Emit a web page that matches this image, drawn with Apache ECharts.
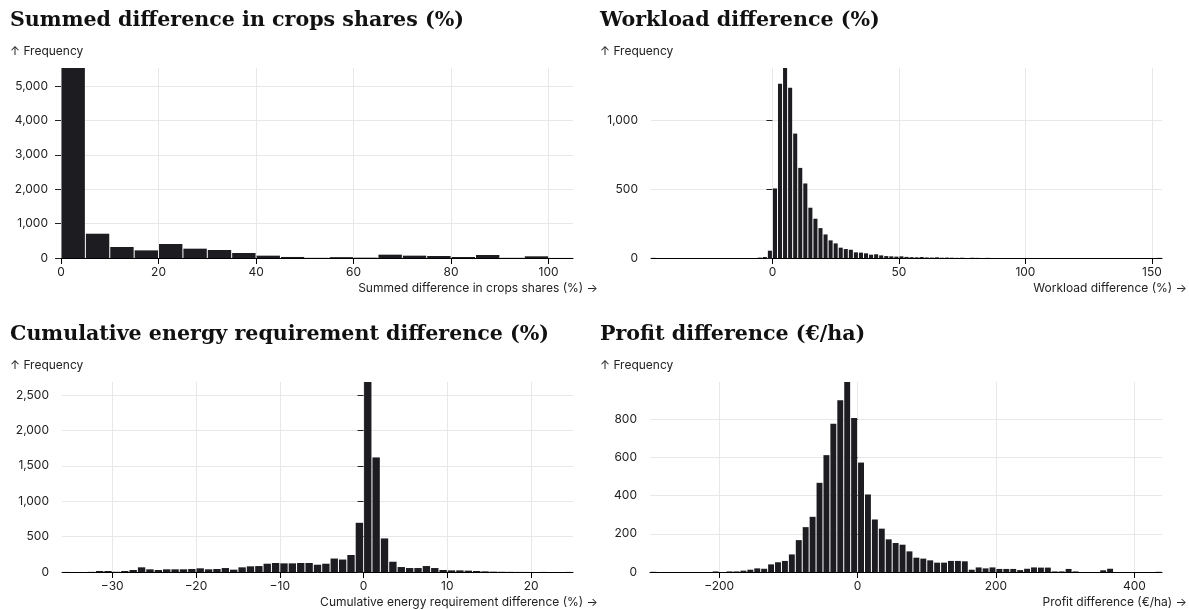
<!DOCTYPE html>
<html><head><meta charset="utf-8">
<script src="https://cdn.jsdelivr.net/npm/echarts@6/dist/echarts.min.js"></script>
<style>html,body{margin:0;padding:0;background:#fff}#c{width:1189px;height:610px}</style>
</head><body><div id="c"></div>
<script>
// ---------- DATA ----------
const cropsTitle = 'Summed difference in crops shares (%)';
const cropsBinStart = 0, cropsBinWidth = 5;
const cropsCounts = [5523, 706, 320, 222, 407, 271, 233, 145, 68, 30, 5, 25, 10, 97, 68, 58, 29, 87, 5, 49, 2];
const cropsXTicks = [0, 20, 40, 60, 80, 100];
const cropsYTicks = [0, 1000, 2000, 3000, 4000, 5000];

const workTitle = 'Workload difference (%)';
const workBinStart = -48, workBinWidth = 2;
const workCounts = [
  1, 0, 0, 0, 0, 0, 0, 0, 0, 0,          // -48 .. -30
  0, 0, 0, 0, 0, 0, 0, 0, 0, 0,          // -28 .. -10
  0, 3, 7, 53,                           // -8 .. -2
  505, 1265, 1379, 1236, 903, 654, 541, 365, 285, 217,   // 0 .. 18
  171, 128, 106, 75, 65, 60, 41, 39, 34, 24,            // 20 .. 38
  27, 19, 14, 12, 10, 12, 8, 6, 5, 7,                   // 40 .. 58
  4, 3, 5, 2, 3, 2, 1, 2, 0, 2,                          // 60 .. 78
  1, 0, 1, 0, 0, 0, 0, 0, 0, 0,                          // 80 .. 98
  0, 0, 0, 0, 0, 0, 0, 0, 0, 0,                          // 100 .. 118
  0, 0, 0, 0, 0, 0, 0, 0, 0, 0,                          // 120 .. 138
  0, 0, 0, 0, 0, 0, 1                                    // 140 .. 152
];
const workXTicks = [0, 50, 100, 150];
const workYTicks = [0, 500, 1000];

const energyTitle = 'Cumulative energy requirement difference (%)';
const energyBinStart = -36, energyBinWidth = 1;
const energyCounts = [
  1, 0, 0, 2, 14, 14, 3, 14, 28, 66,          // -36 .. -27
  38, 28, 38, 38, 38, 42, 52, 38, 42, 56,     // -26 .. -17
  33, 66, 80, 84, 117, 127, 122, 122, 127, 127, // -16 .. -7
  103, 117, 190, 176, 240, 695,               // -6 .. -1
  2683, 1618, 474, 145, 70, 56, 56, 84, 56, 28, // 0 .. 9
  23, 23, 19, 14, 9, 5, 3, 2, 1, 1,           // 10 .. 19
  0, 1, 0, 0, 1                               // 20 .. 24
];
const energyXTicks = [-30, -20, -10, 0, 10, 20];
const energyYTicks = [0, 500, 1000, 1500, 2000, 2500];

const profitTitle = 'Profit difference (€/ha)';
const profitBinStart = -300, profitBinWidth = 10;
const profitCounts = [
  1, 0, 0, 0, 0, 0, 0, 0, 0, 3,               // -300 .. -210
  0, 3, 3, 7, 12, 19, 17, 40, 51, 58,         // -200 .. -110
  92, 167, 235, 289, 467, 612, 777, 899, 995, 807, // -100 .. -10
  573, 406, 275, 227, 171, 152, 143, 108, 75, 70,  // 0 .. 90
  61, 49, 49, 58, 58, 56, 12, 24, 19, 24,     // 100 .. 190
  16, 16, 16, 10, 17, 24, 23, 23, 3, 3,       // 200 .. 290
  16, 3, 0, 0, 0, 9, 17, 0, 0, 0,             // 300 .. 390
  0, 0, 0, 1                                  // 400 .. 430
];
const profitXTicks = [-200, 0, 200, 400];
const profitYTicks = [0, 200, 400, 600, 800];

const yLabel = '↑ Frequency';

// ---------- BUILD ----------
const BAR = '#1d1d21';
const GRIDC = '#e8e8e8';
const SANS = 'Inter, "Noto Sans", sans-serif';
const SERIF = '"DejaVu Serif", serif';

function bins(start, width, counts) {
  return counts.map((c, i) => [start + i * width, start + (i + 1) * width, c]).filter(d => d[2] > 0);
}
const panels = [
  {title: cropsTitle, data: bins(cropsBinStart, cropsBinWidth, cropsCounts), xmin: 0, xmax: 105, xt: cropsXTicks, yt: cropsYTicks,
   grid: {left: 61, top: 68, width: 512, height: 190}, tx: 10, ty: 21},
  {title: workTitle, data: bins(workBinStart, workBinWidth, workCounts), xmin: -48, xmax: 154, xt: workXTicks, yt: workYTicks,
   grid: {left: 651, top: 68, width: 511, height: 190}, tx: 600, ty: 21},
  {title: energyTitle, data: bins(energyBinStart, energyBinWidth, energyCounts), xmin: -36, xmax: 25, xt: energyXTicks, yt: energyYTicks,
   grid: {left: 62, top: 382, width: 511, height: 190}, tx: 10, ty: 335},
  {title: profitTitle, data: bins(profitBinStart, profitBinWidth, profitCounts), xmin: -300, xmax: 440, xt: profitXTicks, yt: profitYTicks,
   grid: {left: 650, top: 382, width: 512, height: 190}, tx: 600, ty: 335}
];

function fitTitleSize() {
  const ctx = document.createElement('canvas').getContext('2d');
  ctx.font = 'bold 20px ' + SERIF;
  const targets = [453, 283, 541, 263];
  let s = 0;
  panels.forEach((p, i) => { s += 20 * targets[i] / ctx.measureText(p.title).width; });
  return Math.max(16, Math.min(26, s / panels.length));
}
const titleSize = fitTitleSize();

const fmtX = v => String(v).replace('-', '\u2212');
const fmtY = v => Number(v).toLocaleString('en-US');

function renderBar(params, api) {
  const x0 = api.value(0), x1 = api.value(1), y = api.value(2);
  const p0 = api.coord([x0, 0]);
  const p1 = api.coord([x1, y]);
  return {
    type: 'rect',
    shape: {x: p0[0] + 0.5, y: p1[1], width: Math.max(0.5, p1[0] - p0[0] - 1), height: p0[1] - p1[1]},
    style: {fill: BAR}
  };
}

const option = {
  backgroundColor: '#fff',
  animation: false,
  grid: panels.map(p => Object.assign({containLabel: false}, p.grid)),
  xAxis: panels.map((p, i) => ({
    type: 'value', gridIndex: i, min: p.xmin, max: p.xmax,
    axisLine: {show: true, onZero: false, lineStyle: {color: '#000', width: 1}},
    axisTick: {show: true, length: 6, customValues: p.xt, lineStyle: {color: '#000'}},
    axisLabel: {customValues: p.xt, formatter: fmtX, color: '#222', fontFamily: SANS, fontSize: 12, margin: 8},
    splitLine: {show: true, lineStyle: {color: GRIDC, width: 1}}
  })),
  yAxis: panels.map((p, i) => ({
    type: 'value', gridIndex: i, min: 0, max: 'dataMax', offset: 2,
    axisLine: {show: false},
    axisTick: {show: true, length: 6, customValues: p.yt, lineStyle: {color: '#222'}},
    axisLabel: {customValues: p.yt, formatter: fmtY, color: '#222', fontFamily: SANS, fontSize: 12, margin: 11},
    splitLine: {show: true, lineStyle: {color: GRIDC, width: 1}}
  })),
  series: panels.map((p, i) => ({
    type: 'custom', xAxisIndex: i, yAxisIndex: i,
    renderItem: renderBar,
    encode: {x: [0, 1], y: 2},
    data: p.data,
    z: 3
  })),
  graphic: {elements: [].concat(...panels.map(p => [
    {type: 'text', x: p.tx, y: p.ty, style: {text: p.title, font: 'bold ' + titleSize.toFixed(1) + 'px ' + SERIF, fill: '#111', verticalAlign: 'middle', align: 'left'}},
    {type: 'text', x: p.tx, y: p.grid.top - 17, style: {text: yLabel, font: '12px ' + SANS, fill: '#222', verticalAlign: 'middle', align: 'left'}},
    {type: 'text', x: p.grid.left + p.grid.width + 25, y: p.grid.top + p.grid.height + 30, style: {text: p.title + ' →', font: '12px ' + SANS, fill: '#222', verticalAlign: 'middle', align: 'right'}}
  ]))}
};

const chart = echarts.init(document.getElementById('c'), null, {renderer: 'canvas'});
chart.setOption(option);
</script>
</body></html>
